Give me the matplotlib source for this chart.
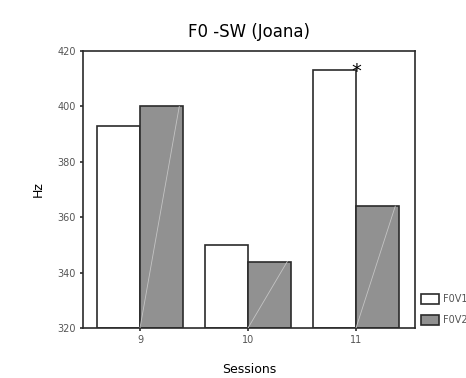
import numpy as np
import matplotlib
matplotlib.use("Agg")
import matplotlib.pyplot as plt
from matplotlib.patches import Patch

sessions = [9, 10, 11]
f0v1 = [393, 350, 413]
f0v2 = [400, 344, 364]
series_labels = ["F0V1", "F0V2"]
yticks = [320, 340, 360, 380, 400, 420]

gray = "#919191"
edge = "#2b2b2b"
label_col = "#555555"

fig = plt.figure(figsize=(4.66, 3.78), dpi=100)
ax = fig.add_axes([83 / 466, 1 - 328 / 378, (415 - 83) / 466, (328 - 51) / 378])

x = np.array(sessions, dtype=float)
w = 0.395
base = 320
ax.bar(x - w / 2, np.array(f0v1) - base, w, bottom=base, color="white",
       edgecolor=edge, linewidth=1.2)
ax.bar(x + w / 2, np.array(f0v2) - base, w, bottom=base, color=gray,
       edgecolor=edge, linewidth=1.2)
# faint diagonal inside the gray bars
for xi, v in zip(x, f0v2):
    ax.plot([xi, xi + w * 0.92], [base, v], color="#c4c4c4", linewidth=0.6, zorder=3)

# asterisk marking session 11
ax.text(x[2] + 0.005, f0v1[2] - 0.3, "*", ha="center", va="center", fontsize=14)

ax.set_xlim(8.472, 11.546)
ax.set_ylim(320, 420)
ax.set_xticks(sessions)
ax.set_yticks(yticks)
ax.tick_params(axis="both", labelsize=7, labelcolor=label_col, length=2,
               width=1.2, color=edge, pad=3)
for s in ax.spines.values():
    s.set_linewidth(1.2)
    s.set_color(edge)

ax.set_title("F0 -SW (Joana)", fontsize=12, pad=10)
ax.set_ylabel("Hz", fontsize=9, labelpad=9)
ax.set_xlabel("Sessions", fontsize=9, labelpad=13)

handles = [Patch(facecolor="white", edgecolor=edge, linewidth=1.2),
           Patch(facecolor=gray, edgecolor=edge, linewidth=1.2)]
leg = fig.legend(handles, series_labels, loc="lower left",
                 bbox_to_anchor=(421 / 466, 1 - 325 / 378), frameon=False,
                 fontsize=7, handlelength=1.9, handleheight=1.25,
                 handletextpad=0.35, labelspacing=1.05, borderpad=0.0,
                 borderaxespad=0.0)
for t in leg.get_texts():
    t.set_color(label_col)

fig.savefig("out.png", dpi=100)
